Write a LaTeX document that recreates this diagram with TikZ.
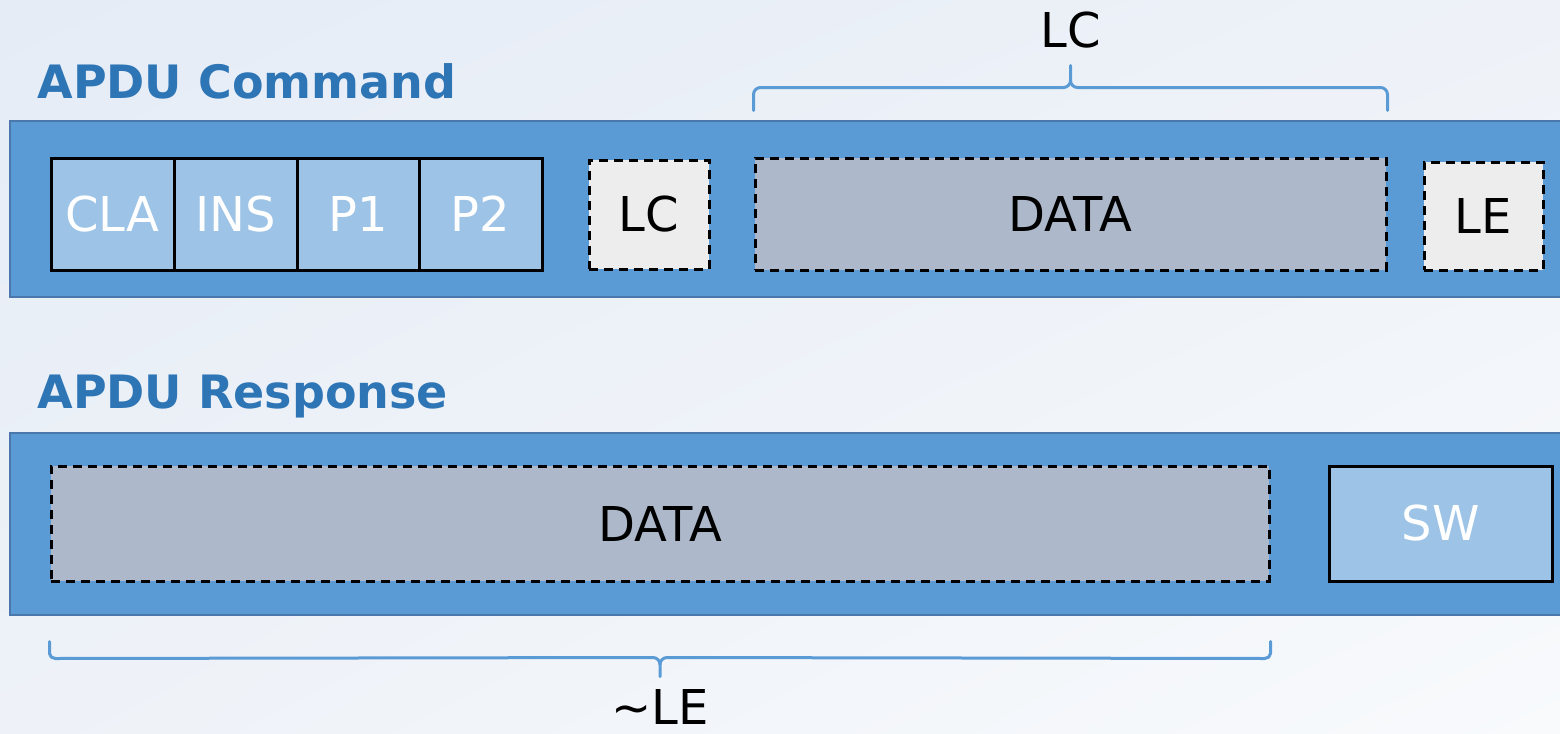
\documentclass[tikz,border=0pt]{standalone}
\usepackage{fontspec}
\setmainfont{DejaVu Sans}
\usetikzlibrary{calc,shadings}
\definecolor{bgA}{HTML}{E5ECF6}
\definecolor{bgM}{HTML}{EEF2F8}
\definecolor{bgB}{HTML}{F8FAFC}
\definecolor{barfill}{HTML}{5B9BD5}
\definecolor{barline}{HTML}{4A78AC}
\definecolor{hdrfill}{HTML}{9DC3E6}
\definecolor{optfill}{HTML}{EDEDED}
\definecolor{datafill}{HTML}{ADB9CA}
\definecolor{titleblue}{HTML}{2E75B6}
\definecolor{bracecol}{HTML}{5B9BD5}
\tikzset{
  bar/.style={fill=barfill, draw=barline, line width=1pt},
  field/.style={inner sep=0pt, draw=black, line width=1.5pt, font=\fontsize{24}{28}\selectfont},
  hdrbox/.style={field, fill=hdrfill, text=white},
  optbox/.style={field, dash pattern=on 4.5pt off 3pt, fill=optfill, text=black},
  databox/.style={field, dash pattern=on 4.5pt off 3pt, fill=datafill, text=black},
  title/.style={anchor=base west, inner sep=0pt, text=titleblue, font=\fontsize{23}{27}\selectfont\bfseries},
  lbl/.style={anchor=base, inner sep=0pt, text=black, font=\fontsize{24}{28}\selectfont},
  brace/.style={draw=bracecol, line width=1.5pt, line cap=round, line join=round},
}
\begin{document}
\begin{tikzpicture}[x=0.5pt,y=-0.5pt]
  \useasboundingbox (0,0) rectangle (1560,734);
  \clip (0,0) rectangle (1560,734);
  % background
  \shade[upper left=bgA, upper right=bgM, lower left=bgM, lower right=bgB] (0,0) rectangle (1560,734);

  % ---- command ----
  \node[title] (tcmd) at (37,98) {APDU Command};
  \draw[bar] (10,121) rectangle (1570,297);
  \node[hdrbox, minimum width=61.5pt, minimum height=56pt] (cla) at (112.5,214) {CLA};
  \node[hdrbox, minimum width=61.5pt, minimum height=56pt] (ins) at (235.5,214) {INS};
  \node[hdrbox, minimum width=61pt, minimum height=56pt] (p1) at (358,214) {P1};
  \node[hdrbox, minimum width=61.5pt, minimum height=56pt] (p2) at (480.5,214) {P2};
  \node[optbox, minimum width=60pt, minimum height=54.5pt] (lc) at (649,214.5) {LC};
  \node[databox, minimum width=315.5pt, minimum height=56pt] (cdata) at (1070.5,214) {DATA};
  \node[optbox, minimum width=59.5pt, minimum height=54pt] (le) at (1483.5,216) {LE};

  % brace over the command data
  \coordinate (bl) at ($(cdata.north west)+(0,-46)$);
  \coordinate (br) at ($(cdata.north east)+(0,-46)$);
  \coordinate (btip) at ($(cdata.north)+(0,-91)$);
  \draw[brace] (bl) -- ++(0,-16) to[out=90,in=180] ++(7,-7) -- ($(btip)+(-7,22)$)
      to[out=0,in=-90] ($(btip)+(0,15)$) -- (btip);
  \draw[brace] (br) -- ++(0,-16) to[out=90,in=0] ++(-7,-7) -- ($(btip)+(7,22)$)
      to[out=180,in=-90] ($(btip)+(0,15)$);
  \node[lbl] (lclbl) at (1071,47) {LC};

  % ---- response ----
  \node[title] (tresp) at (37,408) {APDU Response};
  \draw[bar] (10,433) rectangle (1570,615);
  \node[databox, minimum width=609pt, minimum height=57.5pt] (rdata) at (660,523.5) {DATA};
  \node[hdrbox, minimum width=111.5pt, minimum height=57.5pt] (sw) at (1440.5,523.5) {SW};

  % brace under the response data
  \coordinate (dl) at ($(rdata.south west)+(0,59)$);
  \coordinate (dr) at ($(rdata.south east)+(0,59)$);
  \coordinate (dtip) at ($(rdata.south)+(0,94)$);
  \draw[brace] (dl) -- ++(0,12) to[out=-90,in=180] ++(6,5) -- ($(dtip)+(-7,-19)$)
      to[out=0,in=90] ($(dtip)+(0,-12)$) -- (dtip);
  \draw[brace] (dr) -- ++(0,12) to[out=-90,in=0] ++(-6,5) -- ($(dtip)+(7,-19)$)
      to[out=180,in=90] ($(dtip)+(0,-12)$);
  \node[lbl] (lelbl) at (660,724) {\textasciitilde LE};
\end{tikzpicture}
\end{document}
